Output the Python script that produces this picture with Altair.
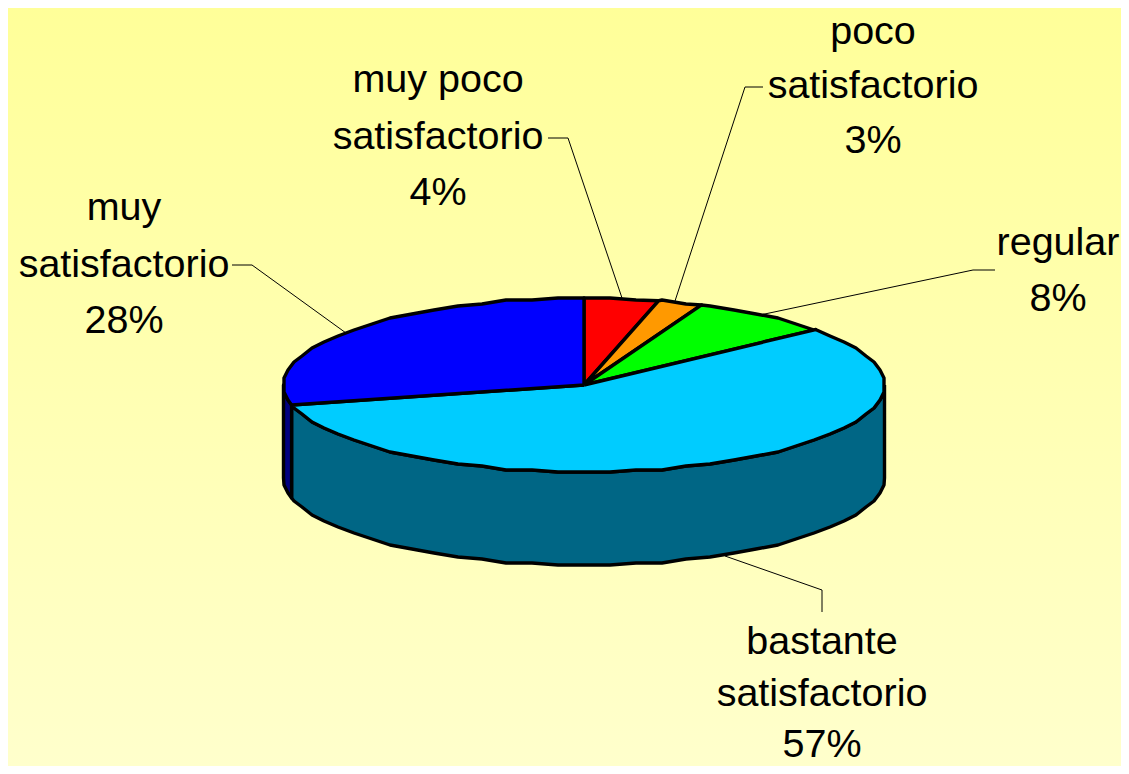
import numpy as np
import pandas as pd
import altair as alt

# Slice values (share of the pie, clockwise from 12 o'clock)
categories = ["muy poco satisfactorio", "poco satisfactorio", "regular", "bastante satisfactorio", "muy satisfactorio"]
shares = [4.0, 2.4, 7.6, 57.3, 28.7]
top_colors = ["#FF0000", "#FF9900", "#00FF00", "#00CCFF", "#0000FF"]
side_colors = ["#800000", "#804D00", "#008000", "#006685", "#000080"]

# Label lines
label_lines = [
    ["muy poco", "satisfactorio", "4%"],
    ["poco", "satisfactorio", "3%"],
    ["regular", "8%"],
    ["bastante", "satisfactorio", "57%"],
    ["muy", "satisfactorio", "28%"],
]
label_x = [438, 873, 1058, 822, 124]
label_baselines = [
    [92, 149, 205],
    [44, 98, 153],
    [255, 311],
    [654, 706, 757],
    [220, 277, 333],
]
leaders = [
    [(548, 138), (568, 138), (622, 298)],
    [(763, 87), (745, 87), (675, 301)],
    [(995, 270), (973, 270), (760, 315)],
    [(725, 556), (822, 590), (822, 612)],
    [(232, 265), (252, 265), (346, 333)],
]

# Pie geometry in picture pixels
CX, CY, RX, RY, DEPTH = 584, 385, 300.5, 87, 93
STEP = 5.0
GRID = 2.0
W, H = 1113, 758
X_DOM = [8, 8 + W]
Y_DOM = [8 + H, 8]


def xs():
    return alt.Scale(domain=X_DOM, nice=False, zero=False)


def ys():
    return alt.Scale(domain=Y_DOM, nice=False, zero=False)


def snap(v):
    return float(np.round(v / GRID) * GRID)


def rim(a0, a1, dy=0.0):
    # facets every few degrees, snapped to a coarse grid like the low-resolution original
    mids = np.arange(np.ceil(a0 / STEP) * STEP, a1, STEP)
    ang = [a0] + [m for m in mids if m > a0] + [a1]
    out = []
    for n, d in enumerate(ang):
        a = np.radians(d)
        px, py = CX + RX * np.sin(a), CY - RY * np.cos(a)
        if 0 < n < len(ang) - 1:
            px, py = snap(px), snap(py)
        out.append((px, py + dy))
    return out


def poly(points, fill, width=3.4):
    df = pd.DataFrame(points, columns=["x", "y"])
    df["i"] = range(len(df))
    return alt.Chart(df).mark_line(
        fill=fill, stroke="black", strokeWidth=width, strokeJoin="round", interpolate="linear"
    ).encode(
        x=alt.X("x:Q", scale=xs(), axis=None),
        y=alt.Y("y:Q", scale=ys(), axis=None),
        order="i:Q",
    )


edges = np.concatenate([[0.0], np.cumsum(shares)]) / sum(shares) * 360.0

# Background gradient
bg = alt.Chart(pd.DataFrame({"a": [0]})).mark_rect(
    color=alt.LinearGradient(
        gradient="linear", x1=0, y1=0, x2=0, y2=1,
        stops=[alt.GradientStop(color="#FFFF99", offset=0), alt.GradientStop(color="#FFFFCC", offset=1)],
    )
).encode(x=alt.value(0), x2=alt.value(W), y=alt.value(0), y2=alt.value(H))

layers = [bg]

# Side walls, visible from 90 to 270 degrees
for k in range(len(shares)):
    a0, a1 = max(edges[k], 90.0), min(edges[k + 1], 270.0)
    if a1 <= a0:
        continue
    top = rim(a0, a1)
    bottom = rim(a0, a1, DEPTH)[::-1]
    pts = top + bottom + [top[0]]
    layers.append(poly(pts, side_colors[k]))

# Top faces
for k in range(len(shares)):
    arc = rim(edges[k], edges[k + 1])
    pts = [(CX, CY)] + arc + [(CX, CY)]
    layers.append(poly(pts, top_colors[k]))

# Leader lines
for j, seg in enumerate(leaders):
    df = pd.DataFrame(seg, columns=["x", "y"])
    df["i"] = range(len(df))
    layers.append(
        alt.Chart(df).mark_line(color="black", strokeWidth=1).encode(
            x=alt.X("x:Q", scale=xs(), axis=None),
            y=alt.Y("y:Q", scale=ys(), axis=None),
            order="i:Q",
        )
    )

# Text
rows = []
for lines, lx, bases in zip(label_lines, label_x, label_baselines):
    for t, b in zip(lines, bases):
        rows.append({"x": lx, "y": b, "t": t})
layers.append(
    alt.Chart(pd.DataFrame(rows)).mark_text(
        font="Liberation Sans", fontSize=39.5, color="black", align="center", baseline="alphabetic"
    ).encode(
        x=alt.X("x:Q", scale=xs(), axis=None),
        y=alt.Y("y:Q", scale=ys(), axis=None),
        text="t:N",
    )
)

chart = alt.layer(*layers).properties(
    width=W, height=H, padding=0, autosize=alt.AutoSizeParams(type="none")
).configure_view(stroke=None)

chart.save("out.html", embed_options={"renderer": "svg", "actions": False})
